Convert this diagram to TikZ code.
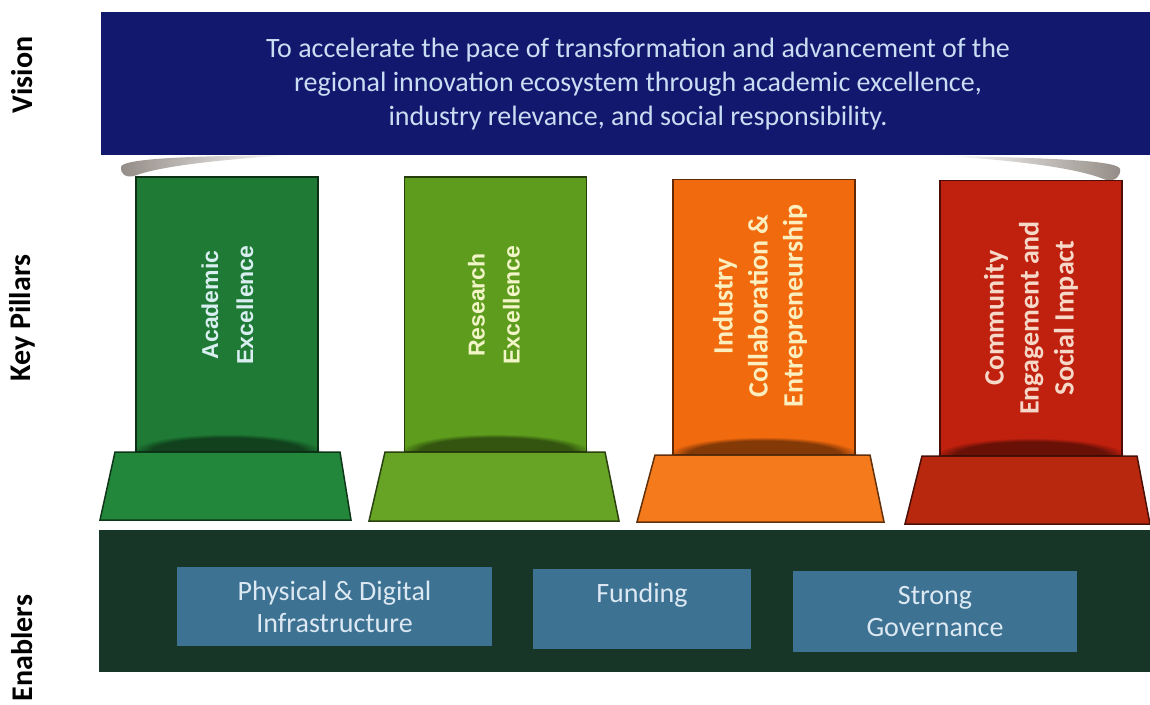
\documentclass[tikz,border=0pt]{standalone}
\usepackage{fontspec}
\setmainfont{Carlito}
\newfontfamily\arialf{Liberation Sans}
\usetikzlibrary{fadings}
\tikzfading[name=midband, top color=transparent!100, middle color=transparent!0, bottom color=transparent!100]
\definecolor{visblue}{HTML}{12186E}
\definecolor{vistext}{HTML}{C9DDF3}
\definecolor{gA}{HTML}{1F7A35}
\definecolor{gAb}{HTML}{23873B}
\definecolor{gB}{HTML}{5E9C1D}
\definecolor{gBb}{HTML}{67A325}
\definecolor{oC}{HTML}{F26A0E}
\definecolor{oCb}{HTML}{F47A1C}
\definecolor{rD}{HTML}{C0200E}
\definecolor{rDb}{HTML}{B8280F}
\definecolor{enab}{HTML}{183628}
\definecolor{enbox}{HTML}{3D7293}
\definecolor{entext}{HTML}{DCE8F2}
\definecolor{tA}{HTML}{D8EEF0}
\definecolor{tB}{HTML}{F2F5C8}
\definecolor{tC}{HTML}{FBEFC0}
\definecolor{tD}{HTML}{F6D8C8}
\definecolor{shadecol}{HTML}{7A7068}
\tikzset{
  sidelabel/.style={rotate=90, font=\fontsize{30}{34}\selectfont\bfseries, text=black, inner sep=0pt},
  column/.style={draw=#1!40!black, line width=1.5pt, fill=#1, minimum width=182pt, minimum height=275pt, inner sep=0pt},
  basepart/.style={draw=#1!40!black, line width=1.5pt, fill=#1},
  armtext/.style={rotate=90, align=center, font=\arialf\bfseries\fontsize{23}{35}\selectfont, inner sep=0pt},
  calbtext/.style={rotate=90, align=center, font=\bfseries\fontsize{28}{35}\selectfont, inner sep=0pt},
  enabler/.style={fill=enbox, text=entext, align=center, font=\fontsize{28}{32}\selectfont, inner sep=0pt},
  footshade/.style={black, opacity=.45, path fading=circle with fuzzy edge 20 percent},
  glowband/.style={cyan!40!white, opacity=.35, path fading=midband},
  roofshade/.style={shadecol, opacity=.8},
}
\begin{document}
\begin{tikzpicture}[x=1pt,y=-1pt]
\useasboundingbox (0,0) rectangle (1150,704);
\fill[white] (0,0) rectangle (1150,704);
% shadows at the ends of the vision box
\fill[roofshade, path fading=east] (121,167) .. controls (122,159) and (180,156) .. (290,155)
  .. controls (200,161) and (155,168) .. (134,176) .. controls (125,178) and (120,173) .. (121,167) -- cycle;
\fill[roofshade, path fading=west] (1120,169) .. controls (1118,161) and (1060,158) .. (945,156)
  .. controls (1040,162) and (1085,171) .. (1106,180) .. controls (1115,182) and (1121,176) .. (1120,169) -- cycle;
% vision
\node[fill=visblue, minimum width=1049pt, minimum height=143pt, inner sep=0pt] (vis) at (625.5,83.5) {};
\node[text=vistext, align=center, font=\fontsize{28}{34}\selectfont, inner sep=0pt] (vistxt) at (638,84)
  {To accelerate the pace of transformation and advancement of the\\regional innovation ecosystem through academic excellence,\\industry relevance, and social responsibility.};
% side labels
\node[sidelabel] (lvis) at (22,75) {Vision};
\node[sidelabel] (lkey) at (22,318) {Key Pillars};
\node[sidelabel] (lena) at (22,648) {Enablers};
% pillar 1
\node[column=gA] (p1) at (227,314.5) {};
\fill[glowband] (137,282) rectangle (317,308);
\fill[footshade] (227,452) ellipse [x radius=95, y radius=18];
\draw[basepart=gAb] (115,452) -- (340,452) -- (351,520) -- (100,520) -- cycle;
\node[armtext, text=tA] (t1) at (227.5,305) {Academic\\Excellence};
% pillar 2
\node[column=gB] (p2) at (495.5,314.5) {};
\fill[glowband] (406,282) rectangle (585,308);
\fill[footshade] (495.5,452) ellipse [x radius=95, y radius=18];
\draw[basepart=gBb] (385,452) -- (605,452) -- (619,521) -- (369,521) -- cycle;
\node[armtext, text=tB] (t2) at (494,305) {Research\\Excellence};
% pillar 3
\node[column=oC] (p3) at (764,317) {};
\fill[footshade] (764,455) ellipse [x radius=95, y radius=18];
\draw[basepart=oCb] (655,455) -- (870,455) -- (884,522) -- (637,522) -- cycle;
\node[calbtext, text=tC] (t3) at (760,306) {Industry\\Collaboration \&\\Entrepreneurship};
% pillar 4
\node[column=rD] (p4) at (1031,318) {};
\fill[footshade] (1031,456) ellipse [x radius=95, y radius=18];
\draw[basepart=rDb] (922,456) -- (1137,456) -- (1150,524) -- (905,524) -- cycle;
\node[calbtext, text=tD] (t4) at (1031,318) {Community\\Engagement and\\Social Impact};
% enablers
\node[fill=enab, minimum width=1051pt, minimum height=142pt, inner sep=0pt] (en) at (624.5,601) {};
\node[enabler, minimum width=315pt, minimum height=79pt] (e1) at (334.5,606.5) {Physical \& Digital\\Infrastructure};
\node[enabler, minimum width=218pt, minimum height=80pt] (e2) at (642,609) {Funding\\\mbox{}};
\node[enabler, minimum width=284pt, minimum height=81pt] (e3) at (935,611.5) {Strong\\Governance};
\end{tikzpicture}
\end{document}
